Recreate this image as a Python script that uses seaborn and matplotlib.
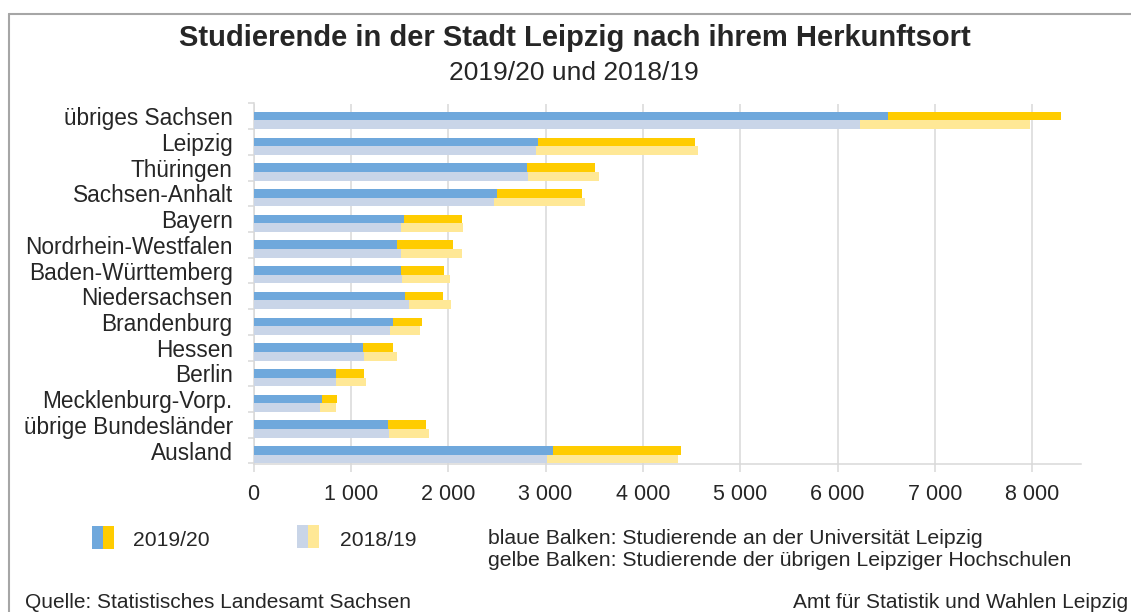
import pandas as pd
import seaborn as sns
import matplotlib.pyplot as plt
from matplotlib.patches import Rectangle
from matplotlib.lines import Line2D

# Herkunftsorte (von oben nach unten)
herkunft = ['übriges Sachsen', 'Leipzig', 'Thüringen', 'Sachsen-Anhalt', 'Bayern',
            'Nordrhein-Westfalen', 'Baden-Württemberg', 'Niedersachsen', 'Brandenburg',
            'Hessen', 'Berlin', 'Mecklenburg-Vorp.', 'übrige Bundesländer', 'Ausland']

# Universität Leipzig (blau) und übrige Hochschulen (gelb)
uni_1920 = [6520, 2920, 2810, 2500, 1550, 1470, 1510, 1560, 1430, 1120, 850, 700, 1380, 3080]
hs_1920 = [1770, 1610, 700, 870, 590, 580, 450, 390, 300, 310, 280, 160, 390, 1310]
uni_1819 = [6230, 2900, 2820, 2470, 1520, 1520, 1530, 1600, 1400, 1140, 850, 680, 1390, 3010]
hs_1819 = [1750, 1670, 730, 940, 630, 620, 490, 430, 310, 330, 310, 170, 410, 1350]

jahre = ['2019/20', '2018/19']
xticks = [0, 1000, 2000, 3000, 4000, 5000, 6000, 7000, 8000]
xtick_labels = ['0', '1 000', '2 000', '3 000', '4 000', '5 000', '6 000', '7 000', '8 000']

blau, gelb = '#6FA8DC', '#FFCC00'
hellblau, hellgelb = '#C9D5E8', '#FFE896'
grau = '#D9D9D9'

rows = []
for i, h in enumerate(herkunft):
    rows.append({'Herkunft': h, 'Jahr': jahre[0], 'uni': uni_1920[i], 'gesamt': uni_1920[i] + hs_1920[i]})
    rows.append({'Herkunft': h, 'Jahr': jahre[1], 'uni': uni_1819[i], 'gesamt': uni_1819[i] + hs_1819[i]})
df = pd.DataFrame(rows)

sns.set_style('white')
plt.rcParams['font.family'] = ['Liberation Sans', 'DejaVu Sans']

W, H = 1131, 612
fig = plt.figure(figsize=(W / 100, H / 100), dpi=100)
ax = fig.add_axes([253.5 / W, 1 - 463.5 / H, (1081 - 253.5) / W, (463.5 - 103.5) / H])

# Gesamt (gelb) hinten, Universität (blau) davor
sns.barplot(data=df, x='gesamt', y='Herkunft', hue='Jahr', hue_order=jahre,
            palette=[gelb, hellgelb], width=0.67, dodge=True, saturation=1,
            errorbar=None, legend=False, linewidth=0, ax=ax, zorder=3)
sns.barplot(data=df, x='uni', y='Herkunft', hue='Jahr', hue_order=jahre,
            palette=[blau, hellblau], width=0.67, dodge=True, saturation=1,
            errorbar=None, legend=False, linewidth=0, ax=ax, zorder=3)

ax.set_xlim(0, 8500)
ax.set_ylim(13.29, -0.66)
ax.set_xlabel('')
ax.set_ylabel('')

ax.set_xticks(xticks, xtick_labels, fontsize=15.5)
ax.grid(axis='x', color=grau, linewidth=1.1, zorder=0)
ax.grid(axis='y', visible=False)
ax.tick_params(axis='x', direction='out', length=6, width=1.1, color=grau, pad=9, bottom=True)

# Teilstriche an den Kategoriegrenzen, Beschriftung leicht oberhalb der Balkenmitte
ax.set_yticks([k - 0.66 for k in range(len(herkunft) + 1)])
ax.set_yticklabels([])
ax.set_yticks([i - 0.16 for i in range(len(herkunft))], herkunft, minor=True, fontsize=16.3)
ax.tick_params(axis='y', which='major', direction='out', length=4, width=1.1, color=grau, left=True)
ax.tick_params(axis='y', which='minor', length=0, pad=15)

for s in ['top', 'right']:
    ax.spines[s].set_visible(False)
for s in ['left', 'bottom']:
    ax.spines[s].set_color(grau)
    ax.spines[s].set_linewidth(1.1)

# Titel
fig.text(575 / W, 1 - 38 / H, 'Studierende in der Stadt Leipzig nach ihrem Herkunftsort',
         ha='center', va='center', fontsize=21, fontweight='bold')
fig.text(574 / W, 1 - 73 / H, '2019/20 und 2018/19', ha='center', va='center', fontsize=19)

# Legende
def zweifarb(x0, y0, c1, c2):
    fig.add_artist(Rectangle((x0 / W, 1 - (y0 + 23) / H), 11 / W, 23 / H,
                             transform=fig.transFigure, color=c1, lw=0))
    fig.add_artist(Rectangle(((x0 + 11) / W, 1 - (y0 + 23) / H), 11 / W, 23 / H,
                             transform=fig.transFigure, color=c2, lw=0))

zweifarb(92, 526, blau, gelb)
fig.text(133 / W, 1 - 541 / H, jahre[0], ha='left', va='center', fontsize=15.2)
zweifarb(297, 525, hellblau, hellgelb)
fig.text(340 / W, 1 - 540 / H, jahre[1], ha='left', va='center', fontsize=15.2)
fig.text(488 / W, 1 - 538 / H, 'blaue Balken: Studierende an der Universität Leipzig',
         ha='left', va='center', fontsize=15.3)
fig.text(488 / W, 1 - 561 / H, 'gelbe Balken: Studierende der übrigen Leipziger Hochschulen',
         ha='left', va='center', fontsize=15.3)

# Fußzeile
fig.text(25 / W, 1 - 603 / H, 'Quelle: Statistisches Landesamt Sachsen',
         ha='left', va='center', fontsize=15)
fig.text(1128 / W, 1 - 603 / H, 'Amt für Statistik und Wahlen Leipzig',
         ha='right', va='center', fontsize=15)

# Rahmen
fig.add_artist(Line2D([9 / W, 1], [1 - 14 / H, 1 - 14 / H], color='#A6A6A6', lw=1.5,
                      transform=fig.transFigure))
fig.add_artist(Line2D([9 / W, 9 / W], [1 - 14 / H, 0], color='#A6A6A6', lw=1.5,
                      transform=fig.transFigure))

fig.savefig('out.png', dpi=100)
